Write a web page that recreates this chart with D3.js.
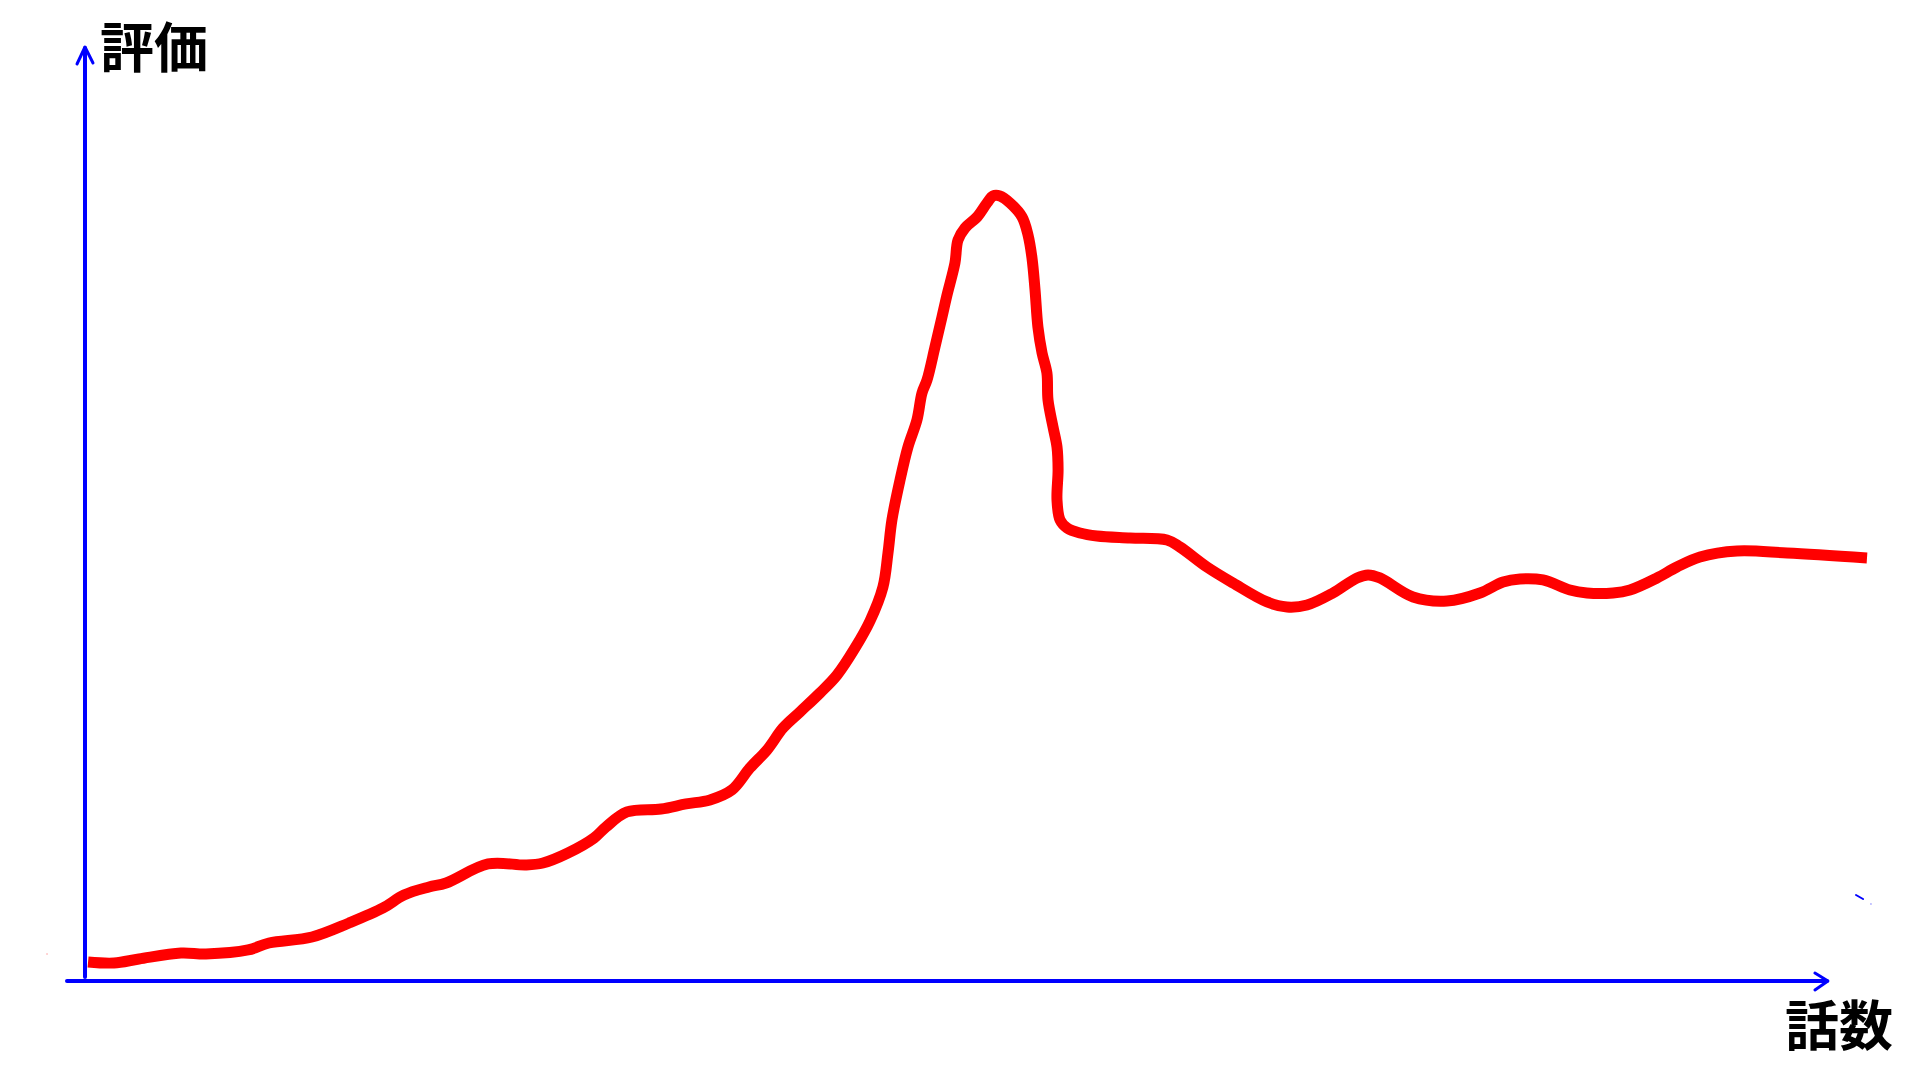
<!DOCTYPE html>
<html>
<head>
<meta charset="utf-8">
<script src="https://cdn.jsdelivr.net/npm/d3@7"></script>
<style>
  html, body { margin: 0; padding: 0; background: #ffffff; }
  svg { display: block; }
  text { font-family: "Noto Sans CJK JP", "Noto Sans", sans-serif; font-weight: 700; fill: #000; }
</style>
</head>
<body>
<svg id="chart" width="1920" height="1080"></svg>
<script>
// Episode numbers (x) and rating values (y) (relative units 0-100)
const episodes = [0.17,1.61,3.00,5.33,6.72,9.06,10.22,12.61,14.67,16.56,17.72,19.11,20.06,22.39,24.50,25.44,26.83,28.28,28.94,30.11,32.00,33.39,34.72,35.94,36.94,37.89,38.78,39.72,40.83,41.78,42.78,43.61,44.33,44.61,44.83,45.28,45.72,46.22,46.50,46.78,47.22,47.61,47.89,48.33,48.50,48.89,49.56,50.11,50.44,50.83,51.39,52.06,52.39,52.61,52.78,52.94,53.17,53.44,53.50,53.78,54.00,54.06,54.00,54.17,54.56,55.28,56.22,58.06,60.11,60.83,62.33,63.78,65.67,66.78,67.89,69.33,70.67,71.28,71.94,73.78,75.67,77.50,78.78,79.72,81.00,82.50,83.44,84.89,85.83,87.33,88.44,89.72,91.78,94.56,99.00];
const ratings = [2.38,2.25,2.75,3.50,3.38,3.88,4.75,5.50,7.25,9.13,10.75,11.75,12.25,14.63,14.50,14.75,16.00,17.88,19.25,21.13,21.50,22.13,22.63,23.88,26.63,28.88,31.63,33.63,36.00,38.25,41.63,45.00,49.25,53.50,57.63,62.63,66.75,70.13,73.50,75.13,79.25,83.00,85.75,89.75,92.63,94.13,95.50,97.25,98.13,98.13,97.25,95.50,93.25,90.38,86.38,81.75,78.50,76.00,72.63,69.25,66.75,63.88,60.13,57.63,56.63,56.00,55.63,55.38,55.13,54.25,51.75,49.75,47.38,46.75,47.00,48.50,50.38,50.75,50.38,48.00,47.50,48.50,49.88,50.25,50.13,48.88,48.50,48.50,48.88,50.38,51.75,53.00,53.75,53.50,52.88];
const yLabel = "評価";
const xLabel = "話数";

const svg = d3.select("#chart");
const x = d3.scaleLinear().domain([0, 100]).range([85, 1885]);
const y = d3.scaleLinear().domain([0, 100]).range([981, 181]);

const blue = "#0000ff";
const axes = svg.append("g").attr("fill", "none").attr("stroke", blue)
  .attr("stroke-linecap", "round").attr("stroke-linejoin", "round");

// Y axis with arrow
const yTop = y(116.75);
axes.append("line").attr("x1", x(0)).attr("x2", x(0))
  .attr("y1", y(0.5)).attr("y2", yTop + 1).attr("stroke-width", 4);
axes.append("path").attr("stroke-width", 3)
  .attr("d", `M${x(0) - 8},${yTop + 17} L${x(0)},${yTop} L${x(0) + 8},${yTop + 16}`);

// X axis with arrow
const xEnd = x(96.83);
axes.append("line").attr("x1", x(-1)).attr("x2", xEnd - 1)
  .attr("y1", y(0)).attr("y2", y(0)).attr("stroke-width", 4);
axes.append("path").attr("stroke-width", 3)
  .attr("d", `M${xEnd - 13},${y(0) - 8} L${xEnd},${y(0)} L${xEnd - 13},${y(0) + 9}`);

// Small stray strokes present in the original drawing
svg.append("line").attr("x1", x(98.39)).attr("y1", y(10.75)).attr("x2", x(98.78)).attr("y2", y(10.25))
  .attr("stroke", blue).attr("stroke-width", 2).attr("stroke-linecap", "round");
svg.append("circle").attr("cx", x(99.22)).attr("cy", y(9.63)).attr("r", 0.8).attr("fill", "#8080ff");
svg.append("circle").attr("cx", x(-2.11)).attr("cy", y(3.38)).attr("r", 0.7).attr("fill", "#ff9090");

// Data line
const pts = episodes.map((e, i) => [e, ratings[i]]);
const line = d3.line().x(d => x(d[0])).y(d => y(d[1])).curve(d3.curveCatmullRom.alpha(0.5));
svg.append("path").datum(pts)
  .attr("d", line)
  .attr("fill", "none")
  .attr("stroke", "#ff0000")
  .attr("stroke-width", 11)
  .attr("stroke-linecap", "butt")
  .attr("stroke-linejoin", "round");

// Labels
svg.append("text").attr("x", 100).attr("y", 68).attr("font-size", 54).text(yLabel);
svg.append("text").attr("x", 1785).attr("y", 1046).attr("font-size", 54).text(xLabel);
</script>
</body>
</html>
